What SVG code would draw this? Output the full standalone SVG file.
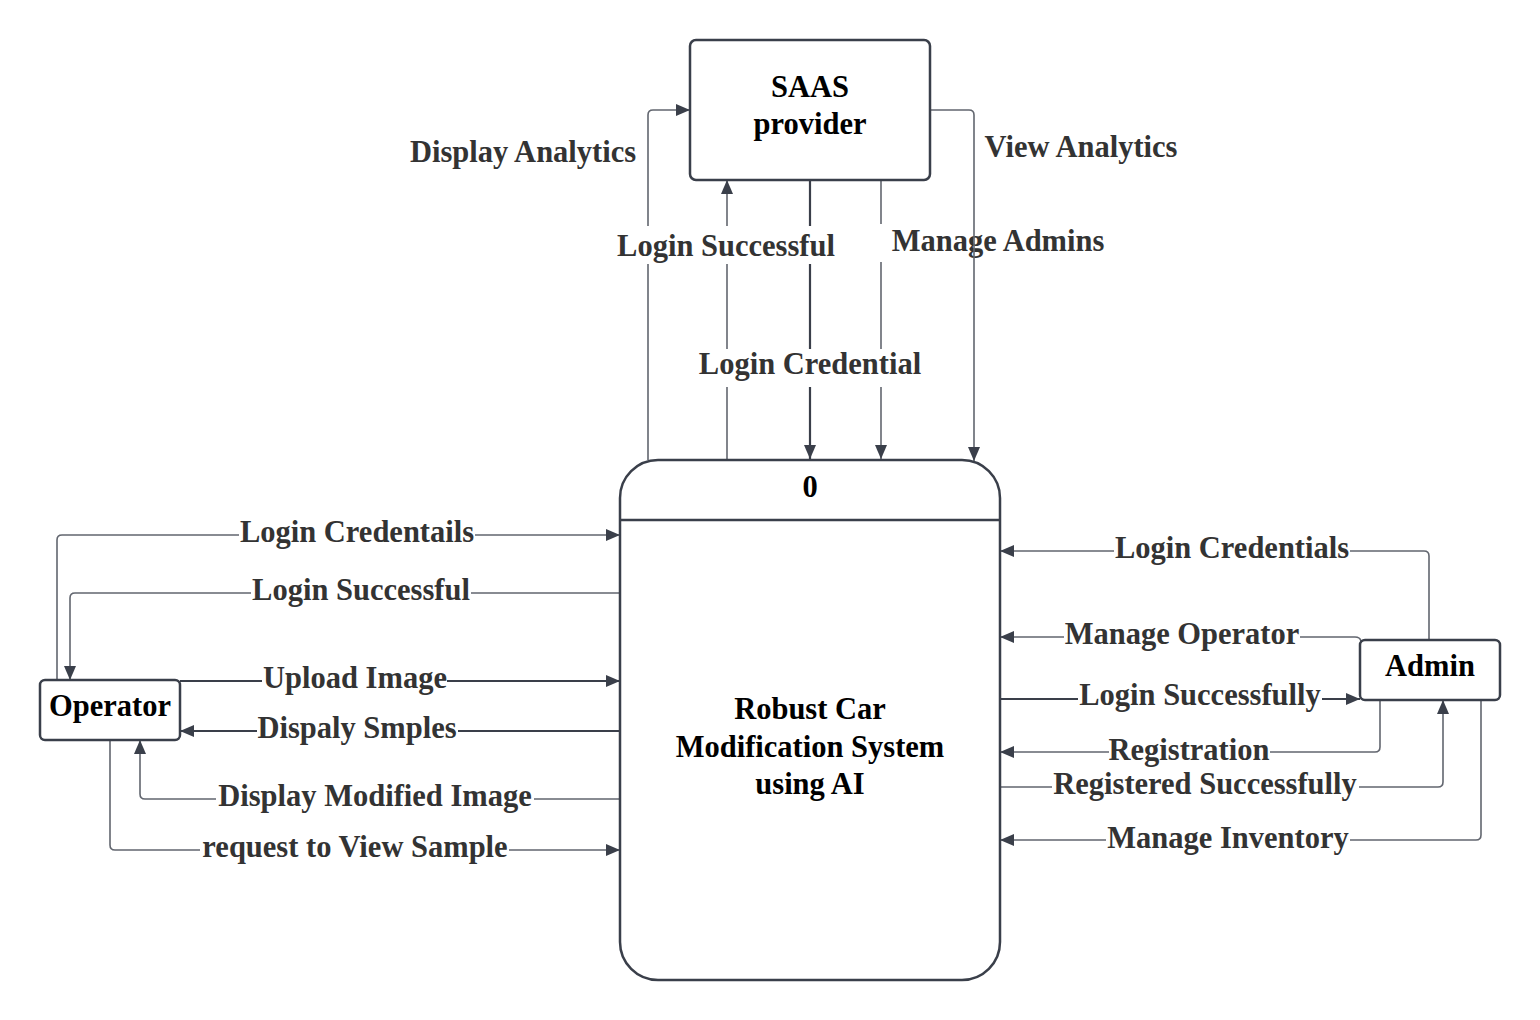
<svg xmlns="http://www.w3.org/2000/svg" width="1540" height="1020" viewBox="0 0 1540 1020">
<style>
.node{fill:#fff;stroke:#3a3f4a;stroke-width:2.5}
.nt{font-family:"Liberation Serif",serif;font-weight:bold;font-size:30.5px;fill:#000;text-anchor:middle}
.c{fill:none;stroke:#62666f;stroke-width:1.6}
.cd{fill:none;stroke:#3a3f4a;stroke-width:2.2}
.lb{font-family:"Liberation Serif",serif;font-weight:bold;font-size:30.5px;fill:#333;text-anchor:middle}
.bg{fill:#fff}
</style>
<defs>
<marker id="ah" markerUnits="userSpaceOnUse" markerWidth="14" markerHeight="12" refX="14" refY="6" orient="auto">
<path d="M0,0 L14,6 L0,12 z" fill="#3a3f4a"/>
</marker>
</defs>
<rect width="1540" height="1020" fill="#fff"/>

<g id="connectors">
<path class="c" d="M648 460 L648 115 Q648 110 653 110 L690 110" marker-end="url(#ah)"/>
<path class="c" d="M727 460 L727 180" marker-end="url(#ah)"/>
<path class="cd" d="M810 180 L810 459" marker-end="url(#ah)"/>
<path class="c" d="M881 180 L881 459" marker-end="url(#ah)"/>
<path class="c" d="M57 680 L57 540 Q57 535 62 535 L620 535" marker-end="url(#ah)"/>
<path class="c" d="M620 593 L75 593 Q70 593 70 598 L70 680" marker-end="url(#ah)"/>
<path class="cd" d="M180 681 L620 681" marker-end="url(#ah)"/>
<path class="cd" d="M620 731 L180 731" marker-end="url(#ah)"/>
<path class="c" d="M620 799 L145 799 Q140 799 140 794 L140 740" marker-end="url(#ah)"/>
<path class="c" d="M110 740 L110 845 Q110 850 115 850 L620 850" marker-end="url(#ah)"/>
<path class="c" d="M1429 640 L1429 556 Q1429 551 1424 551 L1000 551" marker-end="url(#ah)"/>
<path class="c" d="M1361 641 Q1360 637 1355 637 L1000 637" marker-end="url(#ah)"/>
<path class="cd" d="M1000 699 L1360 699" marker-end="url(#ah)"/>
<path class="c" d="M1380 700 L1380 747 Q1380 752 1375 752 L1000 752" marker-end="url(#ah)"/>
<path class="c" d="M1000 787 L1438 787 Q1443 787 1443 782 L1443 700" marker-end="url(#ah)"/>
<path class="c" d="M1481 700 L1481 835 Q1481 840 1476 840 L1000 840" marker-end="url(#ah)"/>

<text class="lb" x="523" y="162">Display Analytics</text>
<text class="lb" x="1081" y="157">View Analytics</text>
<rect class="bg" x="614" y="226" width="224" height="38"/>
<text class="lb" x="726" y="256">Login Successful</text>
<rect class="bg" x="879" y="224" width="230" height="38"/>
<text class="lb" x="998" y="251">Manage Admins</text>
<rect class="bg" x="696" y="349" width="228" height="38"/>
<text class="lb" x="810" y="374">Login Credential</text>
<rect class="bg" x="239" y="516" width="236" height="36"/>
<text class="lb" x="357" y="542">Login Credentails</text>
<rect class="bg" x="251" y="574" width="220" height="36"/>
<text class="lb" x="361" y="600">Login Successful</text>
<rect class="bg" x="262" y="662" width="185" height="36"/>
<text class="lb" x="355" y="688">Upload Image</text>
<rect class="bg" x="257" y="712" width="201" height="36"/>
<text class="lb" x="357" y="738">Dispaly Smples</text>
<rect class="bg" x="216" y="780" width="318" height="36"/>
<text class="lb" x="375" y="806">Display Modified Image</text>
<rect class="bg" x="200" y="831" width="309" height="36"/>
<text class="lb" x="355" y="857">request to View Sample</text>
<rect class="bg" x="1114" y="533" width="236" height="36"/>
<text class="lb" x="1232" y="558">Login Credentials</text>
<rect class="bg" x="1064" y="619" width="236" height="36"/>
<text class="lb" x="1182" y="644">Manage Operator</text>
<rect class="bg" x="1078" y="679" width="244" height="36"/>
<text class="lb" x="1200" y="705">Login Successfully</text>
<rect class="bg" x="1109" y="734" width="161" height="36"/>
<text class="lb" x="1189" y="760">Registration</text>
<rect class="bg" x="1052" y="768" width="307" height="36"/>
<text class="lb" x="1205" y="794">Registered Successfully</text>
<rect class="bg" x="1106" y="822" width="244" height="36"/>
<text class="lb" x="1228" y="848">Manage Inventory</text>

<path class="c" d="M930 110 L969 110 Q974 110 974 115 L974 461" marker-end="url(#ah)"/>
</g>

<g id="saas">
<rect class="node" x="690" y="40" width="240" height="140" rx="6"/>
<text class="nt" x="810" y="97">SAAS</text>
<text class="nt" x="810" y="134">provider</text>
</g>

<g id="process">
<rect class="node" x="620" y="460" width="380" height="520" rx="38"/>
<line x1="620" y1="520" x2="1000" y2="520" stroke="#3a3f4a" stroke-width="2.5"/>
<text class="nt" x="810" y="497">0</text>
<text class="nt" x="810" y="719">Robust Car</text>
<text class="nt" x="810" y="757">Modification System</text>
<text class="nt" x="810" y="794">using AI</text>
</g>

<g id="operator">
<rect class="node" x="40" y="680" width="140" height="60" rx="5"/>
<text class="nt" x="110" y="716">Operator</text>
</g>

<g id="admin">
<rect class="node" x="1360" y="640" width="140" height="60" rx="5"/>
<text class="nt" x="1430" y="676">Admin</text>
</g>
</svg>
